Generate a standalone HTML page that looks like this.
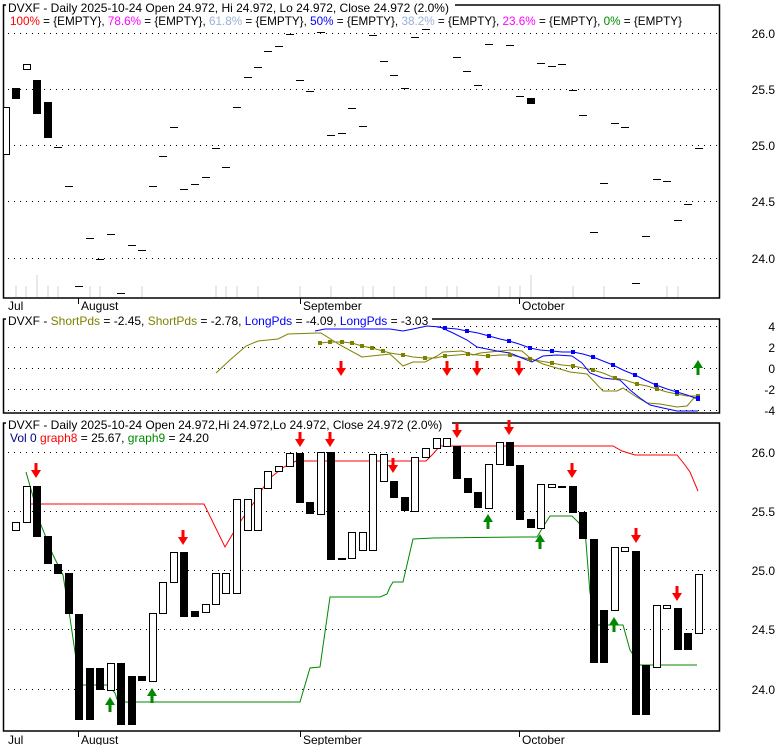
<!DOCTYPE html>
<html><head><meta charset="utf-8"><style>
html,body{margin:0;padding:0;background:#fff;}
svg{display:block;font-family:"Liberation Sans",sans-serif;}
</style></head><body>
<svg width="780" height="745" viewBox="0 0 780 745" xmlns="http://www.w3.org/2000/svg">
<defs>
<path id="dn" d="M-1.5,0 h3 v7 h3.5 l-5,8 l-5,-8 h3.5 z" fill="#f00"/>
<path id="up" d="M-1.5,15 h3 v-7 h3.5 l-5,-8 l-5,8 h3.5 z" fill="#080"/>
</defs>
<rect width="780" height="745" fill="#fff"/>
<g stroke="#000" stroke-dasharray="1,5" stroke-width="1">
<line x1="8" y1="33.5" x2="720" y2="33.5"/><line x1="8" y1="89.5" x2="720" y2="89.5"/><line x1="8" y1="145.5" x2="720" y2="145.5"/><line x1="8" y1="201.5" x2="720" y2="201.5"/><line x1="8" y1="258.5" x2="720" y2="258.5"/>
<line x1="8" y1="326.5" x2="720" y2="326.5"/><line x1="8" y1="347.5" x2="720" y2="347.5"/><line x1="8" y1="368.5" x2="720" y2="368.5"/><line x1="8" y1="389.5" x2="720" y2="389.5"/><line x1="8" y1="410.5" x2="720" y2="410.5"/>
<line x1="8" y1="452.5" x2="720" y2="452.5"/><line x1="8" y1="511.5" x2="720" y2="511.5"/><line x1="8" y1="570.5" x2="720" y2="570.5"/><line x1="8" y1="629.5" x2="720" y2="629.5"/><line x1="8" y1="689.5" x2="720" y2="689.5"/>
</g>
<g stroke="#e8e8e8" stroke-width="2">
<line x1="16" y1="286" x2="16" y2="297"/><line x1="26" y1="286" x2="26" y2="297"/><line x1="37" y1="275" x2="37" y2="297"/><line x1="48" y1="286" x2="48" y2="297"/><line x1="58" y1="286" x2="58" y2="297"/><line x1="90" y1="286" x2="90" y2="297"/><line x1="100" y1="286" x2="100" y2="297"/><line x1="142" y1="286" x2="142" y2="297"/><line x1="216" y1="286" x2="216" y2="297"/><line x1="226" y1="286" x2="226" y2="297"/><line x1="237" y1="286" x2="237" y2="297"/><line x1="258" y1="286" x2="258" y2="297"/><line x1="300" y1="286" x2="300" y2="297"/><line x1="331" y1="286" x2="331" y2="297"/><line x1="363" y1="286" x2="363" y2="297"/><line x1="373" y1="286" x2="373" y2="297"/><line x1="394" y1="286" x2="394" y2="297"/><line x1="426" y1="286" x2="426" y2="297"/><line x1="447" y1="286" x2="447" y2="297"/><line x1="457" y1="286" x2="457" y2="297"/><line x1="499" y1="286" x2="499" y2="297"/><line x1="510" y1="286" x2="510" y2="297"/><line x1="520" y1="286" x2="520" y2="297"/><line x1="531" y1="275" x2="531" y2="297"/><line x1="573" y1="286" x2="573" y2="297"/><line x1="604" y1="286" x2="604" y2="297"/><line x1="667" y1="286" x2="667" y2="297"/><line x1="678" y1="286" x2="678" y2="297"/>
</g>
<g fill="none" stroke="#000" stroke-width="1.5">
<rect x="3.5" y="5" width="716" height="293"/>
<rect x="3.5" y="319" width="716" height="94"/>
<rect x="3.5" y="423" width="716" height="308"/>
</g>
<!-- white backgrounds behind titles -->
<g fill="#fff">
<rect x="6" y="0" width="449" height="13"/>
<rect x="6" y="314" width="426" height="13"/>
<rect x="6" y="418" width="446" height="13"/>
</g>
<g stroke="#000" stroke-width="1"><line x1="78.5" y1="298" x2="78.5" y2="304"/><line x1="300.5" y1="298" x2="300.5" y2="304"/><line x1="519.5" y1="298" x2="519.5" y2="304"/>
<line x1="78.5" y1="731" x2="78.5" y2="737"/><line x1="300.5" y1="731" x2="300.5" y2="737"/><line x1="519.5" y1="731" x2="519.5" y2="737"/></g>
<g stroke="#000" stroke-width="1">
<rect x="3.5" y="107.5" width="6" height="47" fill="#fff"/>
<rect x="12" y="88" width="8" height="11" fill="#000" stroke="none"/>
<rect x="23.5" y="64.5" width="7" height="5" fill="#fff"/>
<rect x="33" y="80" width="8" height="34" fill="#000" stroke="none"/>
<rect x="44" y="102" width="8" height="36" fill="#000" stroke="none"/>
<rect x="527" y="98" width="8" height="6" fill="#000" stroke="none"/>
</g>
<g stroke="#000" stroke-width="1">
<path d="M54,147.5h8M65,186.5h8M75,286.5h8M86,238.5h8M96,259.5h8M107,234.5h8M117,293.5h8M128,245.5h8M138,250.5h8M149,186.5h8M159,156.5h8M170,127.5h8M180,189.5h8M191,184.5h8M202,177.5h8M212,148.5h8M222,167.5h8M233,107.5h8M244,77.5h8M254,67.5h8M264,51.5h8M275,46.5h8M286,34.5h8M296,80.5h8M306,91.5h8M317,32.5h8M327,135.5h8M338,133.5h8M348,108.5h8M359,126.5h8M369,35.5h8M380,61.5h8M390,75.5h8M401,88.5h8M411,37.5h8M422,29.5h8M453,57.5h8M463,71.5h8M474,85.5h8M485,44.5h8M506,45.5h8M516,96.5h8M537,63.5h8M548,66.5h8M558,64.5h8M569,90.5h8M579,115.5h8M590,232.5h8M600,183.5h8M611,123.5h8M621,127.5h8M632,283.5h8M642,236.5h8M653,179.5h8M663,181.5h8M674,220.5h8M684,204.5h8M695,148.5h8"/>
</g>
<g fill="none" stroke-width="1">
<polyline stroke="#808000" points="216,373 230,360 246,346 258,341 278,339 288,334 318,333 321,333 340,345 362,357 390,354 403,366 413,362 425,362 437,356 443,352 462,351 473,355 480,353 500,351 510,350 522,351 530,358 543,364 570,372 587,374 603,391 617,391 623,388 635,396 647,403 660,404 677,407 687,406 693,399 698,396"/>
<polyline stroke="#808000" points="320,343 330,342 342,342 352,343 362,346 372,348 383,351 390,353 403,355 413,357 425,358 435,358 445,356 457,355 468,354 478,355 488,356 500,355 510,355 520,357 530,359 540,361 552,363 562,365 573,366 583,368 593,370 603,373 615,378 625,380 637,384 647,386 657,389 667,392 677,394 687,396 698,396"/>
<polyline stroke="#00f" points="315,331 325,329 373,329 390,329 403,331 413,329 427,326 440,327 453,333 467,340 477,347 487,349 497,351 510,353 522,358 532,362 543,356 557,355 572,356 582,363 590,373 603,378 620,380 630,390 640,398 650,405 663,408 677,411 690,411 698,411"/>
<polyline stroke="#00f" points="437,327 445,328 457,329 467,331 478,333 489,336 500,339 509,341 519,344 530,348 540,350 552,351 562,352 573,352 583,354 593,357 603,361 613,365 623,370 635,375 645,380 656,385 667,389 677,392 687,395 698,399"/>
</g>
<g fill="#808000"><rect x="318" y="341" width="4" height="4"/><rect x="328" y="340" width="4" height="4"/><rect x="340" y="340" width="4" height="4"/><rect x="350" y="341" width="4" height="4"/><rect x="360" y="344" width="4" height="4"/><rect x="370" y="346" width="4" height="4"/><rect x="381" y="349" width="4" height="4"/><rect x="401" y="353" width="4" height="4"/><rect x="423" y="356" width="4" height="4"/><rect x="443" y="354" width="4" height="4"/><rect x="466" y="352" width="4" height="4"/><rect x="486" y="354" width="4" height="4"/><rect x="508" y="353" width="4" height="4"/><rect x="528" y="357" width="4" height="4"/><rect x="550" y="361" width="4" height="4"/><rect x="571" y="364" width="4" height="4"/><rect x="591" y="368" width="4" height="4"/><rect x="613" y="376" width="4" height="4"/><rect x="635" y="382" width="4" height="4"/><rect x="655" y="387" width="4" height="4"/><rect x="675" y="392" width="4" height="4"/><rect x="696" y="394" width="4" height="4"/></g>
<g fill="#00f"><rect x="443" y="326" width="4" height="4"/><rect x="465" y="329" width="4" height="4"/><rect x="487" y="334" width="4" height="4"/><rect x="507" y="339" width="4" height="4"/><rect x="528" y="346" width="4" height="4"/><rect x="550" y="349" width="4" height="4"/><rect x="571" y="350" width="4" height="4"/><rect x="591" y="355" width="4" height="4"/><rect x="611" y="363" width="4" height="4"/><rect x="633" y="373" width="4" height="4"/><rect x="654" y="383" width="4" height="4"/><rect x="675" y="390" width="4" height="4"/><rect x="696" y="396" width="4" height="5"/></g>
<use href="#dn" x="341" y="361"/><use href="#dn" x="447" y="361"/><use href="#dn" x="477" y="361"/><use href="#dn" x="519" y="361"/><use href="#up" x="698" y="360"/>
<g fill="none" stroke-width="1">
<polyline stroke="#f00" points="31,504 204,504 225,547 232,535 240,522 255,501 263,488 270,478 284,467 296,461 426,461 432,455 440,446 613,446 622,451 635,455 677,455 685,465 690,472 698,491"/>
<polyline stroke="#080" points="26,472 32,493 41,525 53,555 63,575 70,618 75,652 80,685 108,685 115,693 118,702 125,702 300,702 310,668 320,667 330,597 380,597 387,594 390,587 393,582 403,582 413,539 433,538 523,537 537,537 543,527 550,516 572,516 578,522 585,530 590,593 597,625 623,625 630,650 640,665 697,665"/>
</g>
<g stroke="#000" stroke-width="1">
<rect x="12.5" y="522.5" width="7" height="8" fill="#fff"/><rect x="23.5" y="486.5" width="7" height="36" fill="#fff"/><rect x="33" y="486" width="8" height="51" fill="#000" stroke="none"/><rect x="44" y="536" width="8" height="28" fill="#000" stroke="none"/><rect x="54" y="564" width="8" height="10" fill="#000" stroke="none"/><rect x="65" y="573" width="8" height="41" fill="#000" stroke="none"/><rect x="75" y="614" width="8" height="106" fill="#000" stroke="none"/><rect x="86" y="668" width="8" height="52" fill="#000" stroke="none"/><rect x="96" y="668" width="8" height="22" fill="#000" stroke="none"/><rect x="107.5" y="663.5" width="7" height="27" fill="#fff"/><rect x="117" y="663" width="8" height="62" fill="#000" stroke="none"/><rect x="128" y="676" width="8" height="49" fill="#000" stroke="none"/><rect x="138" y="676" width="8" height="5" fill="#000" stroke="none"/><rect x="149.5" y="613.5" width="7" height="68" fill="#fff"/><rect x="159.5" y="582.5" width="7" height="31" fill="#fff"/><rect x="170.5" y="552.5" width="7" height="30" fill="#fff"/><rect x="180" y="552" width="8" height="65" fill="#000" stroke="none"/><rect x="191" y="611" width="8" height="6" fill="#000" stroke="none"/><rect x="202.5" y="604.5" width="7" height="8" fill="#fff"/><rect x="212.5" y="573.5" width="7" height="31" fill="#fff"/><rect x="222.5" y="573.5" width="7" height="20" fill="#fff"/><rect x="233.5" y="499.5" width="7" height="94" fill="#fff"/><rect x="244.5" y="499.5" width="7" height="31" fill="#fff"/><rect x="254.5" y="488.5" width="7" height="42" fill="#fff"/><rect x="264.5" y="471.5" width="7" height="17" fill="#fff"/><rect x="275.5" y="466.5" width="7" height="5" fill="#fff"/><rect x="286.5" y="453.5" width="7" height="13" fill="#fff"/><rect x="296" y="453" width="8" height="50" fill="#000" stroke="none"/><rect x="306" y="502" width="8" height="12" fill="#000" stroke="none"/><rect x="317.5" y="452.5" width="7" height="62" fill="#fff"/><rect x="327" y="452" width="8" height="108" fill="#000" stroke="none"/><rect x="338" y="558" width="8" height="2" fill="#000" stroke="none"/><rect x="348.5" y="532.5" width="7" height="26" fill="#fff"/><rect x="359.5" y="532.5" width="7" height="18" fill="#fff"/><rect x="369.5" y="454.5" width="7" height="96" fill="#fff"/><rect x="380.5" y="454.5" width="7" height="27" fill="#fff"/><rect x="390" y="481" width="8" height="17" fill="#000" stroke="none"/><rect x="401" y="497" width="8" height="14" fill="#000" stroke="none"/><rect x="411.5" y="457.5" width="7" height="54" fill="#fff"/><rect x="422.5" y="448.5" width="7" height="9" fill="#fff"/><rect x="433.5" y="438.5" width="7" height="10" fill="#fff"/><rect x="443.5" y="438.5" width="7" height="8" fill="#fff"/><rect x="453" y="446" width="8" height="33" fill="#000" stroke="none"/><rect x="464" y="478" width="8" height="15" fill="#000" stroke="none"/><rect x="474" y="492" width="8" height="16" fill="#000" stroke="none"/><rect x="485.5" y="464.5" width="7" height="44" fill="#fff"/><rect x="496.5" y="442.5" width="7" height="22" fill="#fff"/><rect x="506" y="442" width="8" height="24" fill="#000" stroke="none"/><rect x="516" y="465" width="8" height="55" fill="#000" stroke="none"/><rect x="527" y="519" width="8" height="9" fill="#000" stroke="none"/><rect x="537.5" y="484.5" width="7" height="44" fill="#fff"/><rect x="548.5" y="484.5" width="7" height="3" fill="#fff"/><rect x="558" y="486" width="8" height="2" fill="#000" stroke="none"/><rect x="569" y="486" width="8" height="27" fill="#000" stroke="none"/><rect x="579" y="512" width="8" height="27" fill="#000" stroke="none"/><rect x="590" y="539" width="8" height="124" fill="#000" stroke="none"/><rect x="600" y="610" width="8" height="53" fill="#000" stroke="none"/><rect x="611.5" y="547.5" width="7" height="63" fill="#fff"/><rect x="621.5" y="547.5" width="7" height="4" fill="#fff"/><rect x="632" y="551" width="8" height="164" fill="#000" stroke="none"/><rect x="642" y="665" width="8" height="50" fill="#000" stroke="none"/><rect x="653.5" y="605.5" width="7" height="62" fill="#fff"/><rect x="663.5" y="605.5" width="7" height="3" fill="#fff"/><rect x="674" y="608" width="8" height="42" fill="#000" stroke="none"/><rect x="684" y="633" width="8" height="17" fill="#000" stroke="none"/><rect x="695.5" y="574.5" width="7" height="59" fill="#fff"/>
</g>
<use href="#dn" x="36" y="463"/><use href="#dn" x="183" y="530"/><use href="#dn" x="300" y="432"/><use href="#dn" x="330" y="432"/><use href="#dn" x="393" y="458"/><use href="#dn" x="457" y="423"/><use href="#dn" x="509" y="420"/><use href="#dn" x="572" y="463"/><use href="#dn" x="636" y="528"/><use href="#dn" x="677" y="586"/>
<use href="#up" x="110" y="697"/><use href="#up" x="152" y="688"/><use href="#up" x="488" y="514"/><use href="#up" x="540" y="534"/><use href="#up" x="614" y="617"/>
<g font-size="12" fill="#000">
<text x="8" y="12">DVXF - Daily 2025-10-24 Open 24.972, Hi 24.972, Lo 24.972, Close 24.972 (2.0%)</text>
<text x="10" y="25" textLength="672" lengthAdjust="spacingAndGlyphs"><tspan fill="#f00">100%</tspan> = {EMPTY}, <tspan fill="#f0f">78.6%</tspan> = {EMPTY}, <tspan fill="#99b0d8">61.8%</tspan> = {EMPTY}, <tspan fill="#00f">50%</tspan> = {EMPTY}, <tspan fill="#99b0d8">38.2%</tspan> = {EMPTY}, <tspan fill="#f0f">23.6%</tspan> = {EMPTY}, <tspan fill="#080">0%</tspan> = {EMPTY}</text>
<text x="8" y="325">DVXF - <tspan fill="#808000">ShortPds</tspan> = -2.45, <tspan fill="#808000">ShortPds</tspan> = -2.78, <tspan fill="#00f">LongPds</tspan> = -4.09, <tspan fill="#00f">LongPds</tspan> = -3.03</text>
<text x="8" y="429">DVXF - Daily 2025-10-24 Open 24.972,Hi 24.972,Lo 24.972, Close 24.972 (2.0%)</text>
<text x="10" y="442"><tspan fill="#000080">Vol 0</tspan> <tspan fill="#f00">graph8</tspan> = 25.67, <tspan fill="#080">graph9</tspan> = 24.20</text>
<text x="8" y="310">Jul</text><text x="81" y="310">August</text><text x="303" y="310">September</text><text x="522" y="310">October</text>
<text x="8" y="744">Jul</text><text x="81" y="744">August</text><text x="303" y="744">September</text><text x="522" y="744">October</text>
<g text-anchor="end">
<text x="775" y="38">26.0</text><text x="775" y="94">25.5</text><text x="775" y="150">25.0</text><text x="775" y="206">24.5</text><text x="775" y="263">24.0</text>
<text x="775" y="331">4</text><text x="775" y="352">2</text><text x="775" y="373">0</text><text x="775" y="394">-2</text><text x="775" y="415">-4</text>
<text x="775" y="457">26.0</text><text x="775" y="516">25.5</text><text x="775" y="575">25.0</text><text x="775" y="634">24.5</text><text x="775" y="694">24.0</text>
</g>
</g>
</svg>
</body></html>
